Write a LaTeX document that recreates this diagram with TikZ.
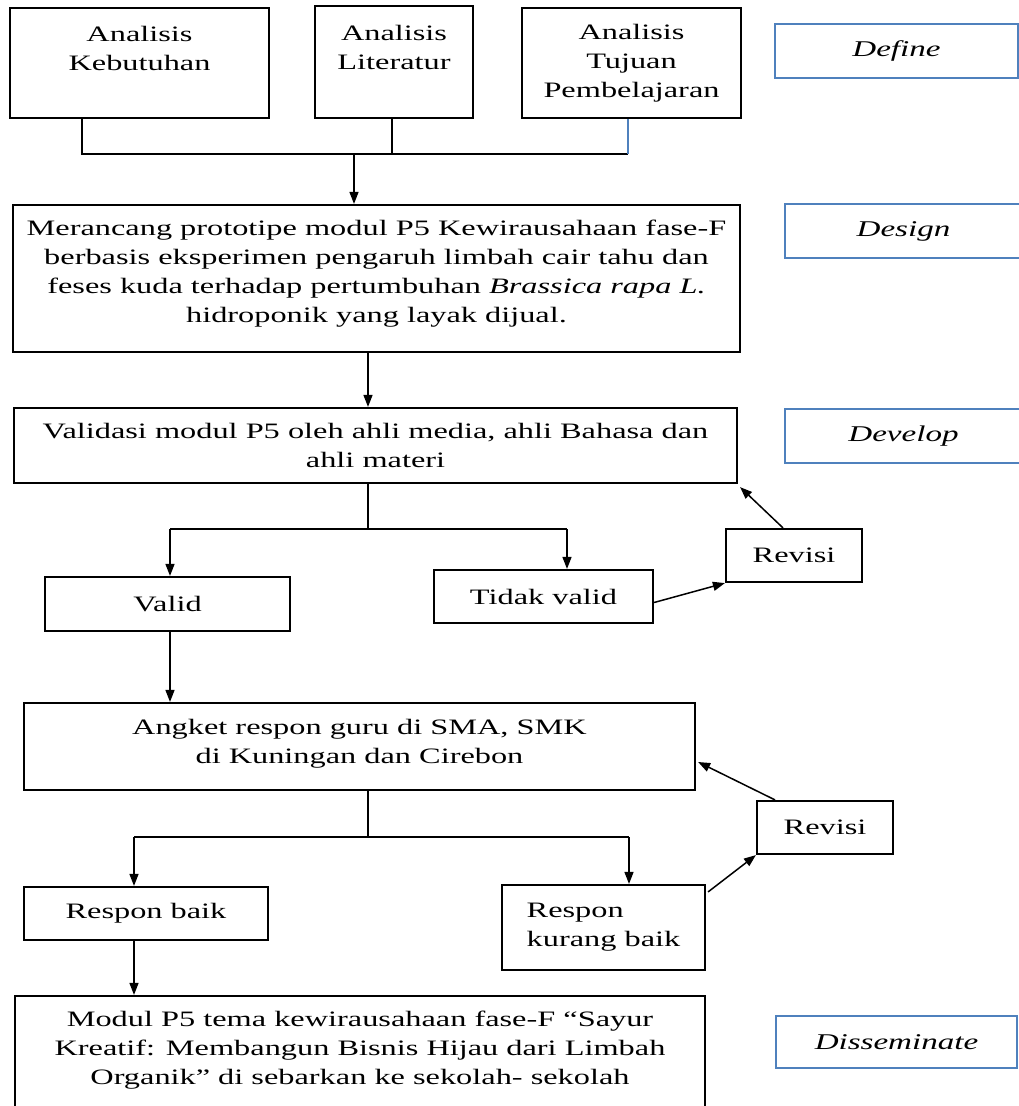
\documentclass[tikz,border=0pt]{standalone}
\usepackage{fontspec}
\setmainfont[FakeStretch=1.47]{Liberation Serif}
\usetikzlibrary{arrows.meta}
\definecolor{phaseblue}{HTML}{4F81BD}
\begin{document}
\begin{tikzpicture}[x=1pt,y=-1pt,
  box/.style={draw=black, line width=2.2pt, rectangle, inner sep=0pt, align=center,
    font=\fontsize{22}{29}\selectfont},
  phase/.style={draw=phaseblue, line width=1.8pt, rectangle, inner sep=0pt, align=center,
    font=\fontsize{22.5}{29}\selectfont\itshape, minimum height=54pt},
  conn/.style={line width=1.5pt, draw=black},
  arr/.style={conn, -{Triangle[length=12pt,width=9pt]}}]
\useasboundingbox (0,0) rectangle (1019,1106);
\clip (0,0) rectangle (1019,1106);

% Define stage
\node[box, minimum width=259pt, minimum height=110pt] (ka) at (139.5,63) {Analisis\\Kebutuhan\\\mbox{}};
\node[box, minimum width=158pt, minimum height=112pt] (kl) at (394,62) {Analisis\\Literatur\\\mbox{}};
\node[box, minimum width=219pt, minimum height=110pt] (kt) at (631.5,63) {Analisis\\Tujuan\\Pembelajaran};

% Design
\node[box, minimum width=727pt, minimum height=147pt] (design) at (376.5,278.5)
  {Merancang prototipe modul P5 Kewirausahaan fase-F\\
   berbasis eksperimen pengaruh limbah cair tahu dan\\
   feses kuda terhadap pertumbuhan \textit{Brassica rapa L.}\\
   hidroponik yang layak dijual.\\[-14pt]\mbox{}};

% Develop
\node[box, minimum width=723pt, minimum height=75pt] (val) at (375.5,445.5)
  {Validasi modul P5 oleh ahli media, ahli Bahasa dan\\ahli materi};
\node[box, minimum width=245pt, minimum height=54pt] (ok) at (167.5,604) {Valid};
\node[box, minimum width=219pt, minimum height=53pt] (tv) at (543.5,596.5) {Tidak valid};
\node[box, minimum width=136pt, minimum height=53pt] (rev1) at (794,555.5) {Revisi};

\node[box, minimum width=671pt, minimum height=87pt] (angket) at (359.5,746.5)
  {Angket respon guru di SMA, SMK\\di Kuningan dan Cirebon\\[-18pt]\mbox{}};
\node[box, minimum width=244pt, minimum height=53pt] (rb) at (146,913.5) {Respon baik};
\node[box, minimum width=203pt, minimum height=85pt, align=left] (rkb) at (603.5,927.5) {Respon\\kurang baik};
\node[box, minimum width=136pt, minimum height=53pt] (rev2) at (825,827.5) {Revisi};

% Disseminate
\node[box, minimum width=690pt, minimum height=116pt] (final) at (360,1054)
  {Modul P5 tema kewirausahaan fase-F “Sayur\\
   Kreatif: Membangun Bisnis Hijau dari Limbah\\
   Organik” di sebarkan ke sekolah- sekolah\\[-17pt]\mbox{}};

% Phase labels
\node[phase, minimum width=243pt] (pdefine) at (896.5,51) {Define};
\node[phase, minimum width=237pt] (pdesign) at (903.5,231) {Design};
\node[phase, minimum width=237pt] (pdevelop) at (903.5,436) {Develop};
\node[phase, minimum width=241pt, minimum height=52pt] (pdiss) at (896.5,1042) {Disseminate};

% Connectors: define -> design
\coordinate (jA) at (82,154);
\coordinate (jB) at (392,154);
\coordinate (jC) at (628,154);
\coordinate (jM) at (354,154);
\draw[conn] (ka.south -| jA) -- (jA) -- (jC);
\draw[conn] (kl.south -| jB) -- (jB);
\draw[line width=1.1pt, draw=phaseblue] (kt.south -| jC) -- (jC);
\draw[arr] (jM) -- (design.north -| jM);

% design -> validation
\coordinate (c1) at (368,529);
\coordinate (c1L) at (170,529);
\coordinate (c1R) at (567,529);
\draw[arr] (design.south -| c1) -- (val.north -| c1);
\draw[conn] (val.south -| c1) -- (c1);
\draw[conn] (c1L) -- (c1R);
\draw[arr] (c1L) -- (ok.north -| c1L);
\draw[arr] (c1R) -- (tv.north -| c1R);
\draw[arr] ([yshift=-6pt]tv.east) -- (rev1.south west);
\draw[arr] ([xshift=-11pt]rev1.north) -- ([xshift=2pt,yshift=-3pt]val.south east);

% valid -> angket
\coordinate (c0) at (170,700);
\draw[arr] (ok.south -| c0) -- (angket.north -| c0);

% angket branches
\coordinate (c2) at (368,837);
\coordinate (c2L) at (134,837);
\coordinate (c2R) at (629,837);
\draw[conn] (angket.south -| c2) -- (c2);
\draw[conn] (c2L) -- (c2R);
\draw[arr] (c2L) -- (rb.north -| c2L);
\draw[arr] (c2R) -- (rkb.north -| c2R);
\draw[arr] ([xshift=2pt,yshift=-8pt]rkb.north east) -- (rev2.south west);
\draw[arr] ([xshift=-50pt]rev2.north) -- ([xshift=2pt,yshift=-15.5pt]angket.east);

% respon baik -> final
\draw[arr] (rb.south -| c2L) -- (final.north -| c2L);
\end{tikzpicture}
\end{document}
